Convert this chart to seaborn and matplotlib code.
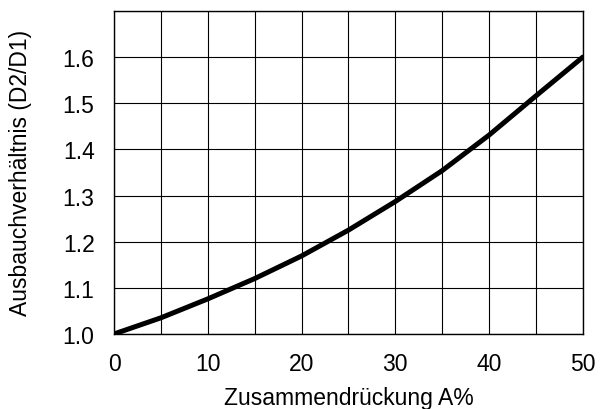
#!/usr/bin/env python3
"""Ausbauchverhältnis über Zusammendrückung."""

import matplotlib
matplotlib.use("Agg")
import matplotlib.pyplot as plt
import numpy as np
import pandas as pd
import seaborn as sns

# values
compression = [0, 5, 10, 15, 20, 25, 30, 35, 40, 45, 50]
ratio = [1.0, 1.035, 1.076, 1.12, 1.169, 1.225, 1.287, 1.354, 1.431, 1.516, 1.6]

x_ticks = [0, 10, 20, 30, 40, 50]
y_ticks = [1.0, 1.1, 1.2, 1.3, 1.4, 1.5, 1.6]


def main():
    sns.set_theme(style="white")
    plt.rcParams["font.family"] = ["Liberation Sans", "DejaVu Sans"]

    df = pd.DataFrame({"A": compression, "ratio": ratio})

    fig = plt.figure(figsize=(6.11, 4.10), dpi=100)
    ax = fig.add_axes([0.1866, 0.183, 0.7674, 0.788])

    sns.lineplot(data=df, x="A", y="ratio", color="black", linewidth=3.6,
                 ax=ax)

    ax.set_xlim(0, 50)
    ax.set_ylim(1.0, 1.7)
    ax.set_xticks(np.arange(0, 51, 5))
    ax.set_xticklabels([str(t) if t in x_ticks else "" for t in range(0, 51, 5)])
    ax.set_yticks([1.0, 1.1, 1.2, 1.3, 1.4, 1.5, 1.6, 1.7])
    ax.set_yticklabels([f"{t:.1f}" for t in y_ticks] + [""])

    ax.grid(True, color="black", linewidth=0.8)
    ax.tick_params(axis="both", length=0, labelsize=16.5, colors="black")
    ax.tick_params(axis="x", pad=13)
    ax.tick_params(axis="y", pad=14)
    for s in ax.spines.values():
        s.set_color("black")
        s.set_linewidth(1.0)

    ax.set_xlabel("Zusammendrückung A%", fontsize=16.5, color="black", labelpad=8)
    ax.set_ylabel("Ausbauchverhältnis (D2/D1)", fontsize=16.5, color="black",
                  labelpad=22)

    fig.savefig("out.png", dpi=100)
    plt.close(fig)


if __name__ == "__main__":
    main()
